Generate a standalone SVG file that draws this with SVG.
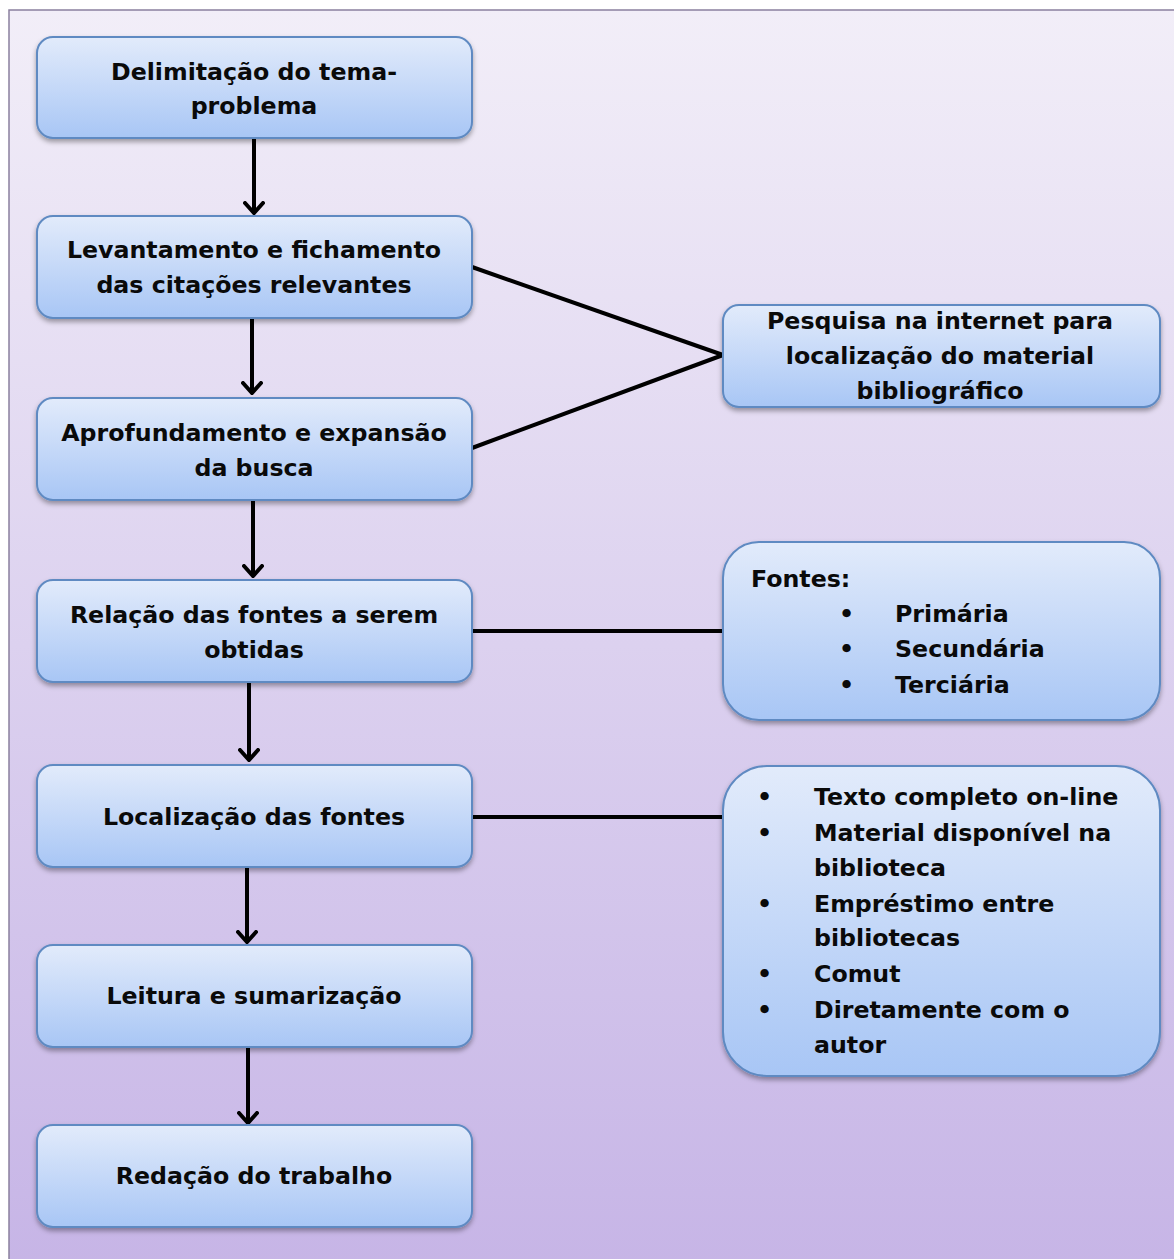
<svg xmlns="http://www.w3.org/2000/svg" width="1174" height="1259" viewBox="0 0 1174 1259">
  <defs>
    <linearGradient id="bg" x1="0" y1="0" x2="0" y2="1">
      <stop offset="0" stop-color="#f2eef8"/>
      <stop offset="1" stop-color="#c6b4e6"/>
    </linearGradient>
    <linearGradient id="boxFill" x1="0" y1="0" x2="0" y2="1">
      <stop offset="0" stop-color="#e2ebfb"/>
      <stop offset="1" stop-color="#a8c6f5"/>
    </linearGradient>
    <filter id="shadow" x="-10%" y="-10%" width="120%" height="130%">
      <feDropShadow dx="0" dy="3" stdDeviation="2.5" flood-color="#000" flood-opacity="0.35"/>
    </filter>
    <marker id="chev" viewBox="0 0 14 22" refX="12" refY="11" markerWidth="14" markerHeight="22" orient="auto" markerUnits="userSpaceOnUse">
      <path d="M2,2 L12,11 L2,20" fill="none" stroke="#000" stroke-width="4" stroke-linecap="round" stroke-linejoin="miter"/>
    </marker>
    <style>
      .box { fill: url(#boxFill); stroke: #5f8ac2; stroke-width: 2; filter: url(#shadow); }
      .t { font-family: "DejaVu Sans", Verdana, sans-serif; font-weight: bold; font-size: 23.7px; fill: #0a0a0a; }
      .c { text-anchor: middle; }
      .link { stroke: #000; stroke-width: 4; fill: none; }
      .flow { stroke: #000; stroke-width: 4; fill: none; marker-end: url(#chev); }
    </style>
  </defs>

  <!-- page background -->
  <rect x="0" y="0" width="1174" height="1259" fill="#ffffff"/>
  <rect x="9" y="10" width="1180" height="1270" fill="url(#bg)" stroke="#8b809f" stroke-width="1.5"/>

  <!-- connectors -->
  <g id="connectors">
    <line class="flow" x1="254" y1="139" x2="254" y2="213"/>
    <line class="flow" x1="252" y1="318" x2="252" y2="393"/>
    <line class="flow" x1="253" y1="501" x2="253" y2="576"/>
    <line class="flow" x1="249" y1="683" x2="249" y2="760"/>
    <line class="flow" x1="247" y1="868" x2="247" y2="942"/>
    <line class="flow" x1="248" y1="1048" x2="248" y2="1123"/>
    <line class="link" x1="472" y1="267" x2="723" y2="355"/>
    <line class="link" x1="472" y1="448" x2="723" y2="355"/>
    <line class="link" x1="472" y1="631" x2="723" y2="631"/>
    <line class="link" x1="472" y1="817" x2="723" y2="817"/>
  </g>

  <!-- main flow -->
  <g id="n1">
    <rect class="box" x="37" y="37" width="435" height="101" rx="16"/>
    <text class="t c" x="254" y="80">Delimitação do tema-</text>
    <text class="t c" x="254" y="114">problema</text>
  </g>
  <g id="n2">
    <rect class="box" x="37" y="216" width="435" height="102" rx="16"/>
    <text class="t c" x="254" y="258">Levantamento e fichamento</text>
    <text class="t c" x="254" y="293">das citações relevantes</text>
  </g>
  <g id="n3">
    <rect class="box" x="37" y="398" width="435" height="102" rx="16"/>
    <text class="t c" x="254" y="441">Aprofundamento e expansão</text>
    <text class="t c" x="254" y="476">da busca</text>
  </g>
  <g id="n4">
    <rect class="box" x="37" y="580" width="435" height="102" rx="16"/>
    <text class="t c" x="254" y="623">Relação das fontes a serem</text>
    <text class="t c" x="254" y="658">obtidas</text>
  </g>
  <g id="n5">
    <rect class="box" x="37" y="765" width="435" height="102" rx="16"/>
    <text class="t c" x="254" y="825">Localização das fontes</text>
  </g>
  <g id="n6">
    <rect class="box" x="37" y="945" width="435" height="102" rx="16"/>
    <text class="t c" x="254" y="1004">Leitura e sumarização</text>
  </g>
  <g id="n7">
    <rect class="box" x="37" y="1125" width="435" height="102" rx="16"/>
    <text class="t c" x="254" y="1184">Redação do trabalho</text>
  </g>

  <!-- side notes -->
  <g id="s1">
    <rect class="box" x="723" y="305" width="437" height="102" rx="16"/>
    <text class="t c" x="940" y="329">Pesquisa na internet para</text>
    <text class="t c" x="940" y="364">localização do material</text>
    <text class="t c" x="940" y="399">bibliográfico</text>
  </g>
  <g id="s2">
    <rect class="box" x="723" y="542" width="437" height="178" rx="36"/>
    <text class="t" x="751" y="587">Fontes:</text>
    <text class="t" x="839" y="622">•</text>
    <text class="t" x="895" y="622">Primária</text>
    <text class="t" x="839" y="657">•</text>
    <text class="t" x="895" y="657">Secundária</text>
    <text class="t" x="839" y="693">•</text>
    <text class="t" x="895" y="693">Terciária</text>
  </g>
  <g id="s3">
    <rect class="box" x="723" y="766" width="437" height="310" rx="44"/>
    <text class="t" x="757" y="805">•</text>
    <text class="t" x="814" y="805">Texto completo on-line</text>
    <text class="t" x="757" y="841">•</text>
    <text class="t" x="814" y="841">Material disponível na</text>
    <text class="t" x="814" y="876">biblioteca</text>
    <text class="t" x="757" y="912">•</text>
    <text class="t" x="814" y="912">Empréstimo entre</text>
    <text class="t" x="814" y="946">bibliotecas</text>
    <text class="t" x="757" y="982">•</text>
    <text class="t" x="814" y="982">Comut</text>
    <text class="t" x="757" y="1018">•</text>
    <text class="t" x="814" y="1018">Diretamente com o</text>
    <text class="t" x="814" y="1053">autor</text>
  </g>
</svg>
